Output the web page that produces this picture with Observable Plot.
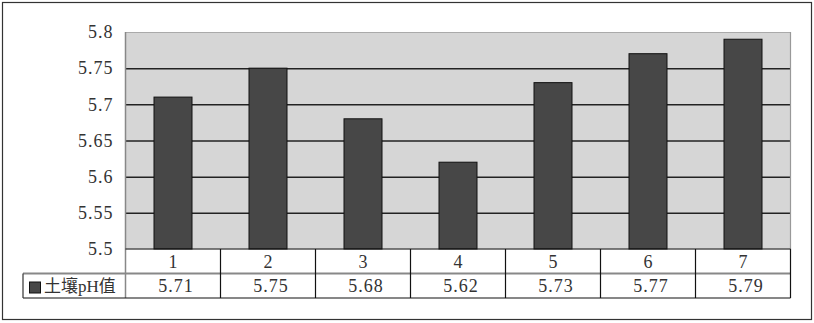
<!DOCTYPE html>
<html>
<head>
<meta charset="utf-8">
<script src="https://cdn.jsdelivr.net/npm/d3@7"></script>
<script src="https://cdn.jsdelivr.net/npm/@observablehq/plot@0.6"></script>
<style>
  html, body { margin: 0; padding: 0; background: #fff; }
  #chart { position: relative; width: 814px; height: 323px; }
  #chart svg text { font-family: 'Liberation Serif', 'Noto Sans CJK SC', serif !important; letter-spacing: 1px; }
  #chart svg text.legend-label { letter-spacing: 0px; }
</style>
</head>
<body>
<div id="chart"></div>
<script>
const categories = ["1", "2", "3", "4", "5", "6", "7"];
const phValues = [5.71, 5.75, 5.68, 5.62, 5.73, 5.77, 5.79];
const yTicks = [5.5, 5.55, 5.6, 5.65, 5.7, 5.75, 5.8];
const seriesName = "土壤pH值";
const valueLabels = ["5.71", "5.75", "5.68", "5.62", "5.73", "5.77", "5.79"];
const yTickLabels = ["5.5", "5.55", "5.6", "5.65", "5.7", "5.75", "5.8"];

const data = categories.map((c, i) => ({cat: c, value: phValues[i], label: valueLabels[i]}));
const serif = "'Liberation Serif', 'Noto Sans CJK SC', serif";

const W = 814, H = 323;
const chart = Plot.plot({
  width: W,
  height: H,
  marginLeft: 125,
  marginRight: 24,
  marginTop: 32,
  marginBottom: 74,
  style: {fontFamily: serif, fontSize: "18px", color: "#333", background: "#fff"},
  x: {domain: categories, paddingInner: 0.6, paddingOuter: 0.3, axis: null},
  y: {domain: [5.5, 5.8], ticks: yTicks, tickFormat: (d, i) => yTickLabels[i], tickSize: 0, tickPadding: 12, label: null},
  marks: [
    Plot.frame({fill: "#d6d6d6", stroke: null}),
    Plot.ruleY(yTicks.slice(1, -1), {stroke: "#222", strokeWidth: 1.5}),
    Plot.ruleY([5.8], {stroke: "#aaa", strokeWidth: 1}),
    Plot.barY(data, {x: "cat", y1: 5.5, y2: "value", fill: "#474747", stroke: "#111", strokeWidth: 1}),
    Plot.axisY({ticks: yTicks, tickFormat: (d, i) => yTickLabels[i], tickSize: 0, tickPadding: 12, fontSize: 18, fill: "#333"})
  ]
});

document.getElementById("chart").appendChild(chart);

// Data table drawn from the chart's own x/y scales
const xs = chart.scale("x");
const ys = chart.scale("y");
const step = xs.step, bw = xs.bandwidth;
const left = xs.apply(categories[0]) + bw / 2 - step / 2;
const right = xs.apply(categories[categories.length - 1]) + bw / 2 + step / 2;
const yTop = ys.apply(5.8);
const yBase = ys.apply(5.5);
const rowH = 24.5;
const yMid = yBase + rowH;
const yBot = yBase + 2 * rowH;
const legendLeft = 23;

const svg = d3.select(chart);
const g = svg.append("g");

// outer border
g.append("rect").attr("x", 2.5).attr("y", 2.5).attr("width", W - 5).attr("height", 317)
  .attr("fill", "none").attr("stroke", "#333").attr("stroke-width", 1.2);

// plot right border
g.append("line").attr("x1", right).attr("x2", right).attr("y1", yTop).attr("y2", yBase)
  .attr("stroke", "#999").attr("stroke-width", 1.2);
// plot left border continuing through table
g.append("line").attr("x1", left).attr("x2", left).attr("y1", yTop).attr("y2", yBot)
  .attr("stroke", "#888").attr("stroke-width", 1.5);

// table horizontal lines
g.append("line").attr("x1", left).attr("x2", right).attr("y1", yBase).attr("y2", yBase)
  .attr("stroke", "#111").attr("stroke-width", 1.2);
g.append("line").attr("x1", legendLeft).attr("x2", right).attr("y1", yMid).attr("y2", yMid)
  .attr("stroke", "#888").attr("stroke-width", 1.8);
g.append("line").attr("x1", legendLeft).attr("x2", right).attr("y1", yBot).attr("y2", yBot)
  .attr("stroke", "#111").attr("stroke-width", 1.2);
// legend cell left
g.append("line").attr("x1", legendLeft).attr("x2", legendLeft).attr("y1", yMid).attr("y2", yBot)
  .attr("stroke", "#333").attr("stroke-width", 1.2);

// column separators
categories.forEach((c, i) => {
  const x1 = xs.apply(c) + bw / 2 + step / 2;
  if (i < categories.length - 1) {
    g.append("line").attr("x1", x1).attr("x2", x1).attr("y1", yBase).attr("y2", yBot)
      .attr("stroke", "#111").attr("stroke-width", 1.2);
  }
});
g.append("line").attr("x1", right).attr("x2", right).attr("y1", yBase).attr("y2", yBot)
  .attr("stroke", "#111").attr("stroke-width", 1.2);

// category labels and values
data.forEach(d => {
  const cx = xs.apply(d.cat) + bw / 2;
  g.append("text").attr("x", cx + 0.5).attr("y", yBase + rowH / 2).attr("dy", "0.35em")
    .attr("text-anchor", "middle").attr("font-size", 18)
    .attr("fill", "#333").text(d.cat);
  g.append("text").attr("x", cx + 3).attr("y", yMid + rowH / 2).attr("dy", "0.35em")
    .attr("text-anchor", "middle").attr("font-size", 18)
    .attr("fill", "#333").text(d.label);
});

// legend
g.append("rect").attr("x", 29.5).attr("y", yMid + 8.5).attr("width", 11).attr("height", 11)
  .attr("fill", "#474747").attr("stroke", "#111").attr("stroke-width", 1);
g.append("text").attr("class", "legend-label").attr("x", 44).attr("y", yMid + rowH / 2).attr("dy", "0.35em")
  .attr("text-anchor", "start").attr("font-size", 17).attr("fill", "#333").text(seriesName);
</script>
</body>
</html>
